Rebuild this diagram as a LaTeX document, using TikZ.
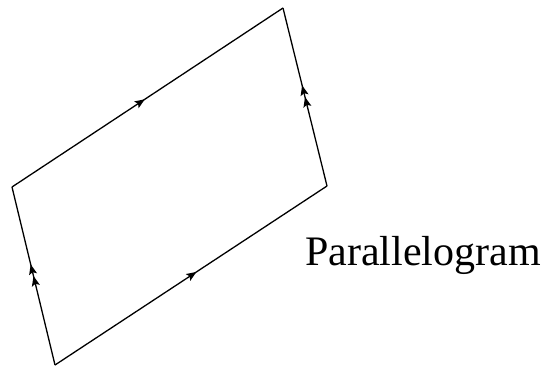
\documentclass[tikz,border=0pt]{standalone}
\usepackage{fontspec}
\setmainfont{Liberation Serif}
\usetikzlibrary{decorations.markings,arrows.meta}
\begin{document}
\begin{tikzpicture}[x=1pt,y=1pt,
  edge/.style={line width=1.3pt,line join=miter},
  onearrow/.style={postaction={decorate,decoration={markings,
     mark=at position #1 with {\arrow{Stealth[length=10pt,width=8pt,inset=2pt]}}}}},
  twoarrow/.style={postaction={decorate,decoration={markings,
     mark=at position 0.50 with {\arrow{Stealth[length=10pt,width=8pt,inset=2pt]}},
     mark=at position 0.565 with {\arrow{Stealth[length=10pt,width=8pt,inset=2pt]}}}}}]
\useasboundingbox (0,0) rectangle (546,373);
\coordinate (A) at (55,8);
\coordinate (B) at (327,187);
\coordinate (C) at (283,365);
\coordinate (D) at (12,186);
\draw[edge,onearrow=0.52] (A) -- (B);
\draw[edge,twoarrow] (B) -- (C);
\draw[edge,onearrow=0.49] (D) -- (C);
\draw[edge,twoarrow] (A) -- (D);
\node[anchor=base west,inner sep=0pt] (lbl) at (305,108) {\fontsize{42}{50}\selectfont Parallelogram};
\end{tikzpicture}
\end{document}
